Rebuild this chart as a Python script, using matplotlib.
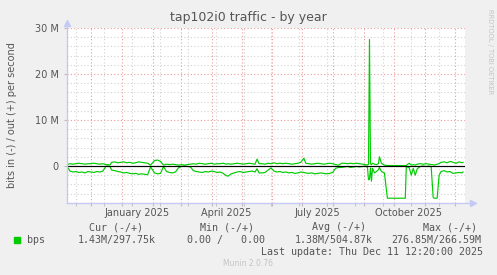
import numpy as np
import matplotlib
matplotlib.use("Agg")
import matplotlib.pyplot as plt
import matplotlib.dates as mdates
from matplotlib.patches import Rectangle

# ── Data (Mbit/s) ────────────────────────────────────────────────────────────
start_time = np.datetime64("2024-11-06T12:20")
end_time = np.datetime64("2025-12-11T12:20")

days = [0, 3, 6, 9, 12, 15, 18, 21, 24, 27, 30, 33, 36, 39, 41, 43,
        45, 48, 51, 54, 57, 60, 63, 66, 69, 72, 75, 78, 81, 84, 88, 91, 94, 97,
        100, 103, 106, 109, 112, 115, 118, 121, 124,
        127, 130, 133, 136, 139, 142, 145, 148, 151, 154, 157, 160, 162, 165,
        168, 171, 174, 177, 180, 183, 186, 189, 191, 193,
        196, 199, 202, 205, 208, 211, 214, 217, 220, 223, 226, 229, 232, 235,
        238, 240, 243, 246, 249, 252, 255, 258, 261, 264, 267, 270, 273, 276,
        279, 282, 285, 288, 291, 294, 297, 300, 302, 303, 304, 305, 306, 307,
        309, 311, 313, 314, 316, 318, 319, 322, 325, 330, 335, 340, 341,
        342, 344, 346, 348, 350, 352, 355, 358, 361, 364, 366, 368, 369, 372,
        374, 376, 379, 382, 385, 388, 391, 394, 397, 398]

out_mbps = [0.3, 0.5, 0.4, 0.5, 0.6, 0.5, 0.4, 0.5, 0.5, 0.6, 0.5, 0.4, 0.5, 0.3, 0.3, 0.2,
            0.8, 0.9, 0.7, 0.8, 0.9, 0.7, 0.8, 0.6, 0.7, 0.9, 0.8, 0.7, 0.6, 0.2, 1.2, 1.3, 1.0, 0.2,
            0.4, 0.3, 0.4, 0.3, 0.2, 0.3, 0.2, 0.3, 0.4,
            0.5, 0.4, 0.6, 0.5, 0.4, 0.5, 0.6, 0.4, 0.5, 0.5, 0.6, 0.4, 0.5, 0.4,
            0.5, 0.6, 0.5, 0.4, 0.5, 0.6, 0.5, 0.4, 1.5, 0.5,
            0.5, 0.4, 0.6, 0.5, 0.7, 0.5, 0.6, 0.5, 0.6, 0.5, 0.4, 0.5, 0.6, 0.8,
            1.7, 0.6, 0.5, 0.4, 0.5, 0.6, 0.5, 0.4, 0.5, 0.6, 0.5, 0.3, 0.2, 0.6,
            0.6, 0.5, 0.6, 0.5, 0.6, 0.5, 0.4, 0.3, 0.2, 0.4, 27.5, 0.5, 0.3, 0.6,
            0.4, 0.3, 0.5, 2.0, 0.6, 0.3, 0.2, 0.1, 0.1, 0.1, 0.1, 0.1, 0.1,
            0.3, 0.6, 0.2, 0.3, 0.2, 0.4, 0.5, 0.4, 0.5, 0.4, 0.3, 0.3, 0.2, 0.4,
            0.5, 0.8, 0.9, 0.7, 1.0, 0.8, 0.6, 0.9, 0.7, 0.8]

in_mbps = [0.1, 1.1, 1.3, 1.2, 1.4, 1.3, 1.5, 1.2, 1.3, 1.4, 1.2, 1.3, 1.1, 0.1, 0.0, 0.1,
           0.9, 1.0, 1.2, 1.3, 1.5, 1.4, 1.6, 1.7, 1.6, 1.8, 1.7, 1.8, 1.9, 0.2, 1.5, 1.7, 1.6, 0.1,
           1.2, 1.4, 1.5, 1.3, 0.4, 0.1, 0.0, 0.1, 0.2,
           1.0, 1.2, 1.3, 1.4, 1.2, 1.3, 1.1, 1.2, 1.4, 1.3, 1.6, 2.1, 2.2, 1.7,
           1.5, 1.3, 1.2, 1.4, 1.3, 1.2, 1.1, 1.3, 0.6, 1.5,
           1.5, 1.4, 0.9, 0.4, 1.1, 1.3, 1.2, 1.4, 1.3, 1.5, 1.4, 1.6, 1.5, 1.3,
           1.4, 1.5, 1.6, 1.5, 1.7, 1.6, 1.5, 1.6, 1.7, 1.6, 1.4, 0.5, 0.3, 0.3,
           0.2, 0.1, 0.3, 0.2, 0.1, 0.2, 0.1, 0.0, 0.3, 3.0, 2.9, 0.4, 3.3, 0.5,
           1.5, 1.2, 0.8, 0.3, 1.2, 1.4, 1.5, 7.0, 7.0, 7.0, 7.0, 7.0, 0.1,
           0.2, 0.4, 2.0, 0.5, 2.0, 0.6, 0.1, 0.0, 0.1, 0.0, 0.2, 6.8, 7.0, 7.0,
           2.0, 1.2, 1.0, 1.3, 1.2, 1.6, 1.5, 1.4, 1.5, 1.3]

month_labels = ["January 2025", "April 2025", "July 2025", "October 2025"]
month_label_dates = ["2025-01-16", "2025-04-16", "2025-07-16", "2025-10-16"]

stat_names = ["Cur (-/+)", "Min (-/+)", "Avg (-/+)", "Max (-/+)"]
stat_values = ["1.43M/297.75k", "0.00 /   0.00", "1.38M/504.87k", "276.85M/266.59M"]

# ── Figure ───────────────────────────────────────────────────────────────────
W, H = 497, 275
BG = "#F0F0F0"
GREEN = "#00CC00"
TXT = "#555555"
AXIS = "#C4CAF4"


def fx(x):
    return x / W


def fy(y):
    return 1 - y / H


fig = plt.figure(figsize=(W / 100, H / 100), dpi=100)
fig.patch.set_facecolor(BG)
ax = fig.add_axes([fx(67), fy(203), (465 - 67) / W, (203 - 28) / H])
ax.set_facecolor("white")

t0 = mdates.date2num(start_time.astype("datetime64[s]").astype(object))
t1 = mdates.date2num(end_time.astype("datetime64[s]").astype(object))
xs = t0 + np.array(days, dtype=float)
out_v = np.array(out_mbps) * 1e6
in_v = -np.array(in_mbps) * 1e6

ax.set_xlim(t0, t1)
ax.set_ylim(-8.04e6, 30e6)

# grid
dot = (0, (1, 2))
ax.xaxis.set_major_locator(mdates.MonthLocator())
first_minor = mdates.date2num(np.datetime64("2024-11-16").astype(object))
ax.xaxis.set_minor_locator(matplotlib.ticker.FixedLocator(np.arange(first_minor, t1, 28)))
ax.yaxis.set_major_locator(matplotlib.ticker.MultipleLocator(10e6))
ax.yaxis.set_minor_locator(matplotlib.ticker.MultipleLocator(2e6))
ax.grid(which="minor", color="#D2D2D2", linestyle=dot, linewidth=0.8)
ax.grid(which="major", color="#EE9999", linestyle=dot, linewidth=0.8)
ax.set_axisbelow(True)

ax.yaxis.set_major_formatter(matplotlib.ticker.FuncFormatter(
    lambda v, p: "0" if v == 0 else f"{v / 1e6:.0f} M"))
ax.set_xticklabels([])
ax.tick_params(axis="y", which="major", labelsize=7, labelcolor=TXT, length=2,
               color="#BBBBBB", pad=4)
ax.tick_params(axis="y", which="minor", length=0)
ax.tick_params(axis="x", which="both", length=2, color="#BBBBBB")
for s in ax.spines.values():
    s.set_visible(False)

# data
ax.plot(xs, out_v, color=GREEN, lw=0.85, zorder=3)
ax.plot(xs, in_v, color=GREEN, lw=0.85, zorder=3)
ax.axhline(0, color="black", lw=0.85, zorder=4)

# axis lines with arrows
ax.plot([0, 0], [0, 1.02], transform=ax.transAxes, color=AXIS, lw=1, clip_on=False, zorder=5)
ax.plot([0, 1.015], [0, 0], transform=ax.transAxes, color=AXIS, lw=1, clip_on=False, zorder=5)
ax.plot([0], [1.03], marker="^", ms=4, color=AXIS, transform=ax.transAxes, clip_on=False)
ax.plot([1.02], [0], marker=">", ms=4, color=AXIS, transform=ax.transAxes, clip_on=False)

# month labels
for lab, d in zip(month_labels, month_label_dates):
    xd = mdates.date2num(np.datetime64(d).astype(object))
    ax.text(xd, -0.055, lab, transform=ax.get_xaxis_transform(), ha="center", va="center",
            fontsize=7, color=TXT)

# texts
fig.text(fx(248.5), fy(18), "tap102i0 traffic - by year", ha="center", va="center",
         fontsize=9, color=TXT)
fig.text(fx(12), fy(115), "bits in (-) / out (+) per second", rotation=90,
         ha="center", va="center", fontsize=7, color=TXT)
fig.text(fx(490), fy(52), "RRDTOOL / TOBI OETIKER", rotation=270, ha="center",
         va="center", fontsize=4.8, color="#C4C4C4")

mono = "DejaVu Sans Mono"
head_x = [89, 200, 312, 423]
val_x = [78, 187, 295, 391]
for nm, hx in zip(stat_names, head_x):
    fig.text(fx(hx), fy(227), nm, ha="left", va="center", fontsize=7.2, color=TXT, family=mono)
for vv, vx in zip(stat_values, val_x):
    fig.text(fx(vx), fy(240), vv, ha="left", va="center", fontsize=7.2, color=TXT, family=mono)
fig.patches.append(Rectangle((fx(14), fy(243)), 6 / W, 6 / H, transform=fig.transFigure,
                             color=GREEN))
fig.text(fx(27), fy(240), "bps", ha="left", va="center", fontsize=7.2, color=TXT, family=mono)
fig.text(fx(483), fy(252), "Last update: Thu Dec 11 12:20:00 2025", ha="right", va="center",
         fontsize=7.2, color=TXT, family=mono)
fig.text(fx(248), fy(264), "Munin 2.0.76", ha="center", va="center", fontsize=5.5,
         color="#C4C4C4")

fig.savefig("out.png", dpi=100, facecolor=BG)
